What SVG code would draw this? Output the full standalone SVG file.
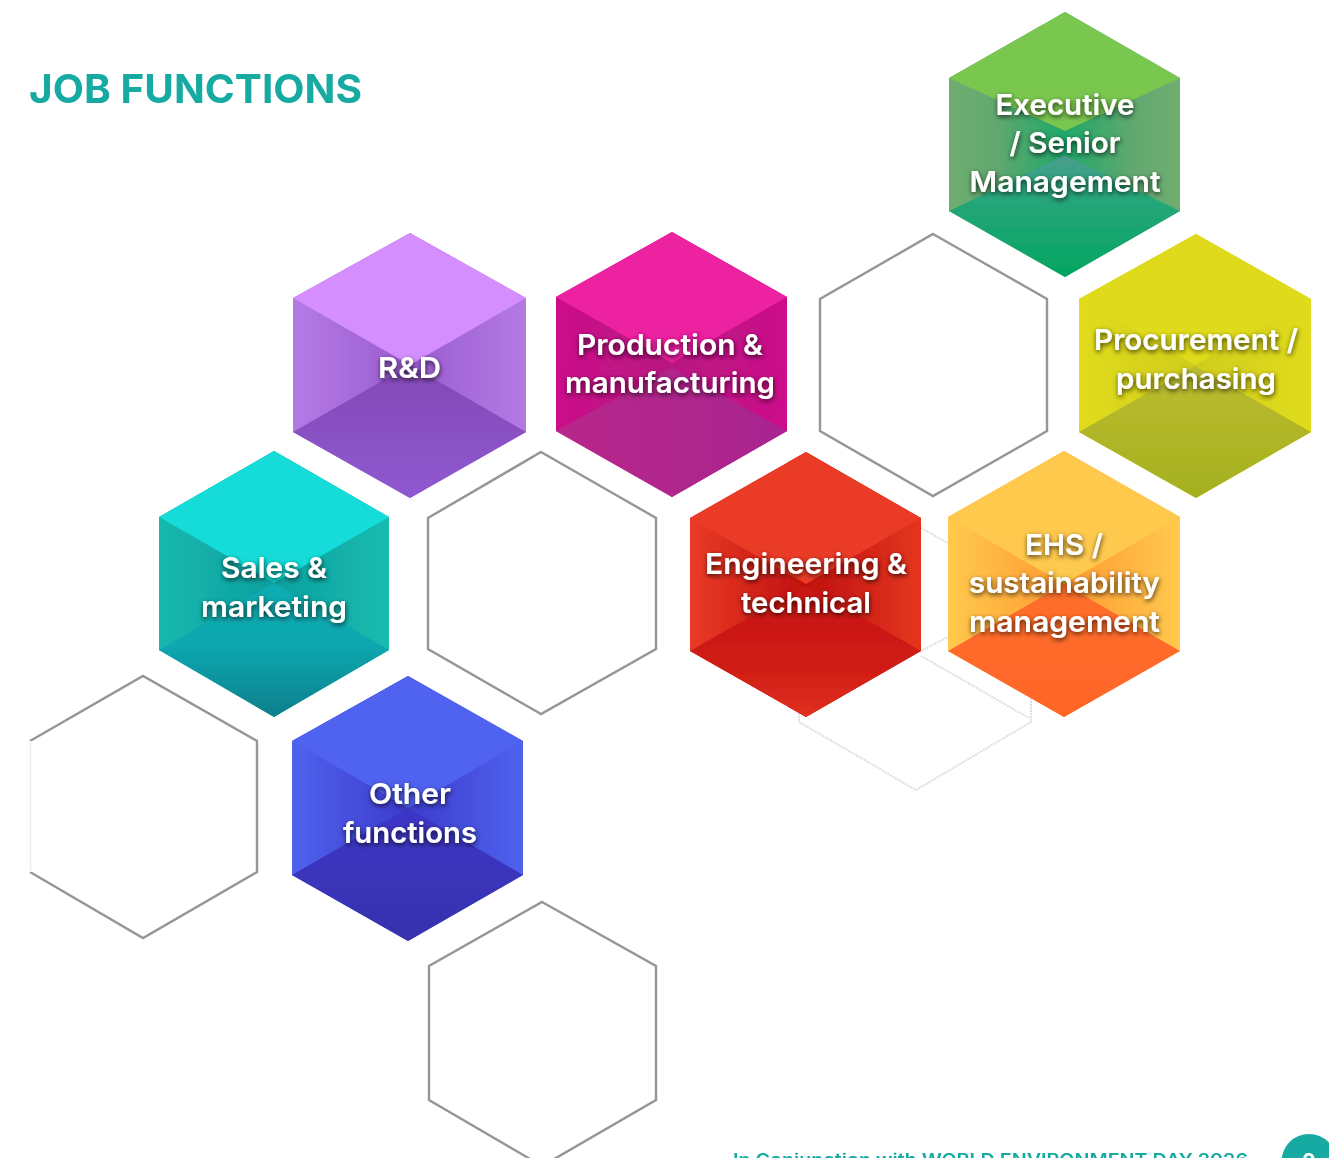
<svg xmlns="http://www.w3.org/2000/svg" width="1329" height="1158" viewBox="0 0 1329 1158">
<style>
text{font-family:Inter,"Liberation Sans",sans-serif}
.l{font-size:29px;font-weight:600;fill:#fff;text-anchor:middle;filter:url(#ts)}
.o{fill:#fff;stroke:#969696;stroke-width:2.4}
.f{fill:none;stroke:#dedede;stroke-width:2;stroke-dasharray:2 1}
.t{font-size:40px;font-weight:700;fill:#15aaa2}
.ft{font-size:17px;font-weight:600;fill:#15aaa2}
</style>
<defs>
<filter id="ts" x="-15%" y="-30%" width="130%" height="170%"><feDropShadow dx="0.5" dy="2" stdDeviation="2.4" flood-color="#000" flood-opacity="0.75"/></filter>
<filter id="soft" filterUnits="userSpaceOnUse" x="0" y="0" width="1329" height="1158"><feGaussianBlur stdDeviation="0.55"/></filter>
<linearGradient id="s1"><stop offset="0" stop-color="#6fae70"/><stop offset=".2" stop-color="#62a870"/><stop offset=".5" stop-color="#1ea868"/><stop offset=".8" stop-color="#62a870"/><stop offset="1" stop-color="#6fae70"/></linearGradient>
<linearGradient id="b1" x2="0" y2="1"><stop offset="0" stop-color="#4a9e8e"/><stop offset=".3" stop-color="#2aa67c"/><stop offset="1" stop-color="#02a562"/></linearGradient>
<linearGradient id="s2"><stop offset="0" stop-color="#e0dc1a"/><stop offset=".5" stop-color="#d0cc1c"/><stop offset="1" stop-color="#e0dc1a"/></linearGradient>
<linearGradient id="b2" x2="0" y2="1"><stop offset="0" stop-color="#bcbc30"/><stop offset="1" stop-color="#a4b01e"/></linearGradient>
<linearGradient id="s3"><stop offset="0" stop-color="#b47ae4"/><stop offset=".5" stop-color="#9a5cd0"/><stop offset="1" stop-color="#b47ae4"/></linearGradient>
<linearGradient id="b3" x2="0" y2="1"><stop offset="0" stop-color="#8349b6"/><stop offset="1" stop-color="#9058d0"/></linearGradient>
<linearGradient id="s4"><stop offset="0" stop-color="#cc108a"/><stop offset=".5" stop-color="#b81482"/><stop offset="1" stop-color="#cc108a"/></linearGradient>
<linearGradient id="b4"><stop offset="0" stop-color="#b8268a"/><stop offset="1" stop-color="#a82490"/></linearGradient>
<linearGradient id="s5"><stop offset="0" stop-color="#14b8ae"/><stop offset=".5" stop-color="#0fa0a0"/><stop offset="1" stop-color="#14bcb0"/></linearGradient>
<linearGradient id="b5" x2="0" y2="1"><stop offset="0" stop-color="#10acb2"/><stop offset=".45" stop-color="#10a8b0"/><stop offset="1" stop-color="#0f7f8c"/></linearGradient>
<linearGradient id="s6"><stop offset="0" stop-color="#ea3b26"/><stop offset=".5" stop-color="#c0100e"/><stop offset="1" stop-color="#e4361f"/></linearGradient>
<linearGradient id="b6" x2="0" y2="1"><stop offset="0" stop-color="#c81512"/><stop offset=".6" stop-color="#cf1b15"/><stop offset="1" stop-color="#e03020"/></linearGradient>
<linearGradient id="s7"><stop offset="0" stop-color="#ffc94d"/><stop offset=".5" stop-color="#ff9a32"/><stop offset="1" stop-color="#ffc94d"/></linearGradient>
<linearGradient id="b7" x2="0" y2="1"><stop offset="0" stop-color="#ff6f2b"/><stop offset="1" stop-color="#ff6528"/></linearGradient>
<linearGradient id="s8"><stop offset="0" stop-color="#4f62ee"/><stop offset=".5" stop-color="#3c3ccc"/><stop offset="1" stop-color="#4f62ee"/></linearGradient>
<linearGradient id="b8" x2="0" y2="1"><stop offset="0" stop-color="#3e36c8"/><stop offset="1" stop-color="#3732ae"/></linearGradient>
</defs>
<rect width="1329" height="1158" fill="#fff"/>
<g filter="url(#soft)">
<text id="title" class="t" x="29" y="102.500" textLength="333" lengthAdjust="spacingAndGlyphs">JOB FUNCTIONS</text>

<g id="faint-hex"><polygon class="f" points="916,525 1031,590 1031,722 916,790 799,722 799,590"/><polyline class="f" points="921,656 1029,718"/><polyline class="f" points="921,651 948,637"/></g>
<g id="empty-1"><polygon class="o" points="933,234 1047,299 1047,431 933,496 820,431 820,299"/></g>
<g id="empty-2"><polygon class="o" points="541,452 656,518 656,649 541,714 428,649 428,518"/></g>
<g id="empty-3"><path class="o" d="M30 741 L143 676 L257 741 V872 L143 938 L30 872" /><path d="M30 741V872" stroke="#fff" stroke-width="3" fill="none"/><path d="M30.500 741V872" stroke="#eee" stroke-width="1.500" fill="none"/></g>
<g id="empty-4"><polygon class="o" points="542,902 656,966 656,1100 542,1166 429,1100 429,966"/></g>

<g id="executive"><polygon fill="url(#s1)" points="1065,12 1180,78 1180,211 1065,277 949,211 949,78"/><polygon fill="#7ac74f" points="1065,12 1180,78 1065,131 949,78"/><polygon fill="url(#b1)" points="949,211 1065,155 1180,211 1065,277"/>
<text class="l" x="1065" y="115" textLength="139" lengthAdjust="spacingAndGlyphs">Executive</text><text class="l" x="1065" y="153" textLength="111" lengthAdjust="spacingAndGlyphs">/ Senior</text><text class="l" x="1065" y="192" textLength="191" lengthAdjust="spacingAndGlyphs">Management</text></g>

<g id="procurement"><polygon fill="url(#s2)" points="1196,234 1311,299 1311,432 1196,498 1079,432 1079,299"/><polygon fill="#dfdb1a" points="1196,234 1311,299 1195,365 1079,299"/><polygon fill="url(#b2)" points="1079,432 1195,366 1311,432 1196,498"/>
<text class="l" x="1196" y="350" textLength="204" lengthAdjust="spacingAndGlyphs">Procurement /</text><text class="l" x="1196" y="389" textLength="160" lengthAdjust="spacingAndGlyphs">purchasing</text></g>

<g id="rd"><polygon fill="url(#s3)" points="410,233 526,298 526,432 410,498 293,432 293,298"/><polygon fill="#d48efe" points="410,233 526,298 410,365 293,298"/><polygon fill="url(#b3)" points="293,432 410,365 526,432 410,498"/>
<text class="l" x="409.500" y="378" textLength="63" lengthAdjust="spacingAndGlyphs">R&amp;D</text></g>

<g id="production"><polygon fill="url(#s4)" points="672,232 787,297 787,431 672,497 556,431 556,297"/><polygon fill="#ec20a0" points="672,232 787,297 672,363 556,297"/><polygon fill="url(#b4)" points="556,431 672,368 787,431 672,497"/>
<text class="l" x="670" y="355" textLength="186" lengthAdjust="spacingAndGlyphs">Production &amp;</text><text class="l" x="670" y="393" textLength="210" lengthAdjust="spacingAndGlyphs">manufacturing</text></g>

<g id="sales"><polygon fill="url(#s5)" points="274,451 389,517 389,650 274,717 159,650 159,517"/><polygon fill="#12dcd9" points="274,451 389,517 274,583 159,517"/><polygon fill="url(#b5)" points="159,650 274,583 389,650 274,717"/>
<text class="l" x="274" y="578" textLength="106" lengthAdjust="spacingAndGlyphs">Sales &amp;</text><text class="l" x="274" y="617" textLength="146" lengthAdjust="spacingAndGlyphs">marketing</text></g>

<g id="engineering"><polygon fill="url(#s6)" points="806,452 921,518 921,651 806,717 690,651 690,518"/><polygon fill="#ea3b26" points="806,452 921,518 806,584 690,518"/><polygon fill="url(#b6)" points="690,651 806,585 921,651 806,717"/>
<text class="l" x="806" y="574" textLength="202" lengthAdjust="spacingAndGlyphs">Engineering &amp;</text><text class="l" x="806" y="613" textLength="130" lengthAdjust="spacingAndGlyphs">technical</text></g>

<g id="ehs"><polygon fill="url(#s7)" points="1064,451 1180,517 1180,651 1064,717 948,651 948,517"/><polygon fill="#ffc94d" points="1064,451 1180,517 1064,584 948,517"/><polygon fill="url(#b7)" points="948,651 1064,584 1180,651 1064,717"/>
<text class="l" x="1064" y="555" textLength="78" lengthAdjust="spacingAndGlyphs">EHS /</text><text class="l" x="1064.500" y="593" textLength="191" lengthAdjust="spacingAndGlyphs">sustainability</text><text class="l" x="1064.500" y="632" textLength="191" lengthAdjust="spacingAndGlyphs">management</text></g>

<g id="other"><polygon fill="url(#s8)" points="408,676 523,741 523,875 408,941 292,875 292,741"/><polygon fill="#5062f0" points="408,676 523,741 408,808 292,741"/><polygon fill="url(#b8)" points="292,875 408,808 523,875 408,941"/>
<text class="l" x="410" y="804" textLength="82" lengthAdjust="spacingAndGlyphs">Other</text><text class="l" x="410" y="843" textLength="134" lengthAdjust="spacingAndGlyphs">functions</text></g>

<g id="footer"><text class="ft" x="733" y="1166" textLength="515" lengthAdjust="spacingAndGlyphs">In Conjunction with WORLD ENVIRONMENT DAY 2026</text>
<circle cx="1309" cy="1161.500" r="27.500" fill="#15aaa2"/><text x="1309" y="1168" font-size="20" font-weight="700" fill="#fff" text-anchor="middle">9</text></g>
</g>
</svg>
